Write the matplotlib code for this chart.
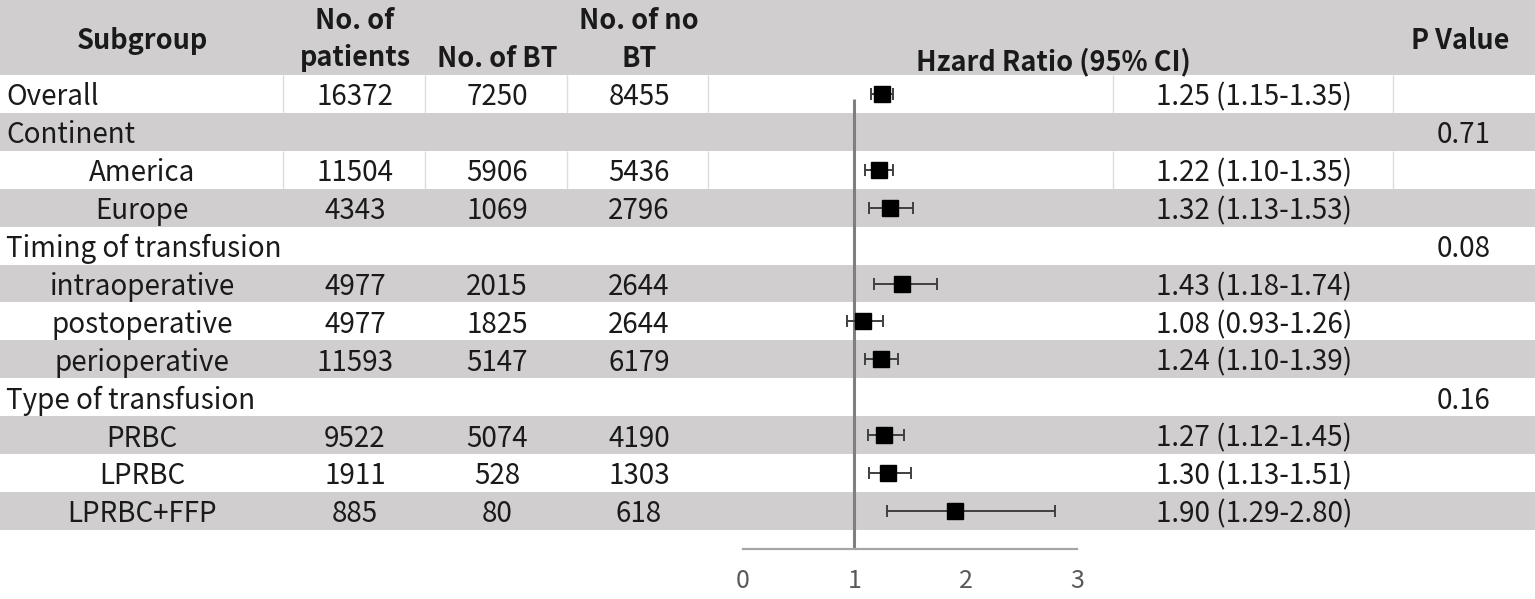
import matplotlib
matplotlib.use("Agg")
import matplotlib.pyplot as plt
import numpy as np

plt.rcParams['font.family'] = ['Noto Sans CJK SC', 'DejaVu Sans']

subgroups = ["Overall", "Continent", "America", "Europe", "Timing of transfusion",
             "intraoperative", "postoperative", "perioperative", "Type of transfusion",
             "PRBC", "LPRBC", "LPRBC+FFP"]
is_header_row = [True, True, False, False, True, False, False, False, True, False, False, False]
patients = [16372, None, 11504, 4343, None, 4977, 4977, 11593, None, 9522, 1911, 885]
n_bt = [7250, None, 5906, 1069, None, 2015, 1825, 5147, None, 5074, 528, 80]
n_nobt = [8455, None, 5436, 2796, None, 2644, 2644, 6179, None, 4190, 1303, 618]
hr = [1.25, None, 1.22, 1.32, None, 1.43, 1.08, 1.24, None, 1.27, 1.30, 1.90]
ci_lo = [1.15, None, 1.10, 1.13, None, 1.18, 0.93, 1.10, None, 1.12, 1.13, 1.29]
ci_hi = [1.35, None, 1.35, 1.53, None, 1.74, 1.26, 1.39, None, 1.45, 1.51, 2.80]
p_values = ["", "0.71", "", "", "0.08", "", "", "", "0.16", "", "", ""]
x_ticks = [0, 1, 2, 3]

W, H = 1535, 599
fig = plt.figure(figsize=(W / 100, H / 100), dpi=100)

# background axes: x in pixels, y in row index units
row0, rowh = 94.0, 37.9
bg = fig.add_axes([0, 0, 1, 1])
bg.set_xlim(0, W)
bg.set_ylim((H - row0) / rowh, -row0 / rowh)
bg.axis('off')

GRAY = '#D0CECE'
TXT = '#1a1a1a'
n = len(subgroups)
top_idx = -row0 / rowh
bg.axhspan(top_idx, -0.5, color=GRAY, lw=0, zorder=0)
seps = [283, 425, 567, 708, 1113, 1393]
for i in range(n):
    if i % 2 == 1:
        bg.axhspan(i - 0.5, i + 0.5, color=GRAY, lw=0, zorder=0)
    elif i in (0, 2):
        bg.vlines(seps, i - 0.5, i + 0.5, color='#dcdcdc', lw=1, zorder=1)

fs = 20
def yi(px):
    return (px - row0) / rowh

# header text (baseline placed)
hdr_kw = dict(fontsize=fs - 0.5, fontweight='bold', color=TXT, ha='center', va='baseline')
bg.text(142, yi(49), "Subgroup", **hdr_kw)
bg.text(355, yi(29), "No. of", **hdr_kw)
bg.text(355, yi(66), "patients", **hdr_kw)
bg.text(497, yi(67), "No. of BT", **hdr_kw)
bg.text(639, yi(29), "No. of no", **hdr_kw)
bg.text(639, yi(67), "BT", **hdr_kw)
bg.text(1053, yi(70), "Hzard Ratio (95% CI)", **hdr_kw)
bg.text(1460, yi(49), "P Value", **hdr_kw)

base_off = 11.5 / rowh
cell_kw = dict(fontsize=fs, color=TXT, va='baseline', fontweight='light')
for i in range(n):
    y = i + base_off
    if is_header_row[i]:
        bg.text(6, y, subgroups[i], ha='left', **cell_kw)
    else:
        bg.text(142, y, subgroups[i], ha='center', **cell_kw)
    for xc, vals in ((355, patients), (497, n_bt), (639, n_nobt)):
        if vals[i] is not None:
            bg.text(xc, y, str(vals[i]), ha='center', **cell_kw)
    if hr[i] is not None:
        bg.text(1254, y, f"{hr[i]:.2f} ({ci_lo[i]:.2f}-{ci_hi[i]:.2f})", ha='center', **cell_kw)
    if p_values[i]:
        bg.text(1464, y, p_values[i], ha='center', **cell_kw)

# forest axes
ax_l, ax_r = 743, 1077
ax_top, ax_bot = 75, 549
ax = fig.add_axes([ax_l / W, 1 - ax_bot / H, (ax_r - ax_l) / W, (ax_bot - ax_top) / H])
ax.patch.set_alpha(0)
ax.set_xlim(0, 3)
ax.set_ylim((ax_bot - row0) / rowh, (ax_top - row0) / rowh)
for s in ['top', 'right', 'left']:
    ax.spines[s].set_visible(False)
ax.spines['bottom'].set_color('#a6a6a6')
ax.spines['bottom'].set_linewidth(1.6)
ax.set_yticks([])
ax.set_xticks(x_ticks)
ax.set_xticklabels([str(t) for t in x_ticks], fontsize=18, color='#595959',
                   fontweight='light')
ax.tick_params(axis='x', length=0, pad=14)

ax.vlines(1, 0.13, (ax_bot - row0) / rowh, color='#7f7f7f', lw=2.2, zorder=2)

idx = [i for i in range(n) if hr[i] is not None]
xs = np.array([hr[i] for i in idx])
los = np.array([ci_lo[i] for i in idx])
his = np.array([ci_hi[i] for i in idx])
ax.errorbar(xs, idx, xerr=[xs - los, his - xs], fmt='s', color='black', ms=11,
            ecolor='#404040', elinewidth=1.4, capsize=4.5, capthick=1.4, zorder=3)

fig.savefig("out.png", dpi=100)
